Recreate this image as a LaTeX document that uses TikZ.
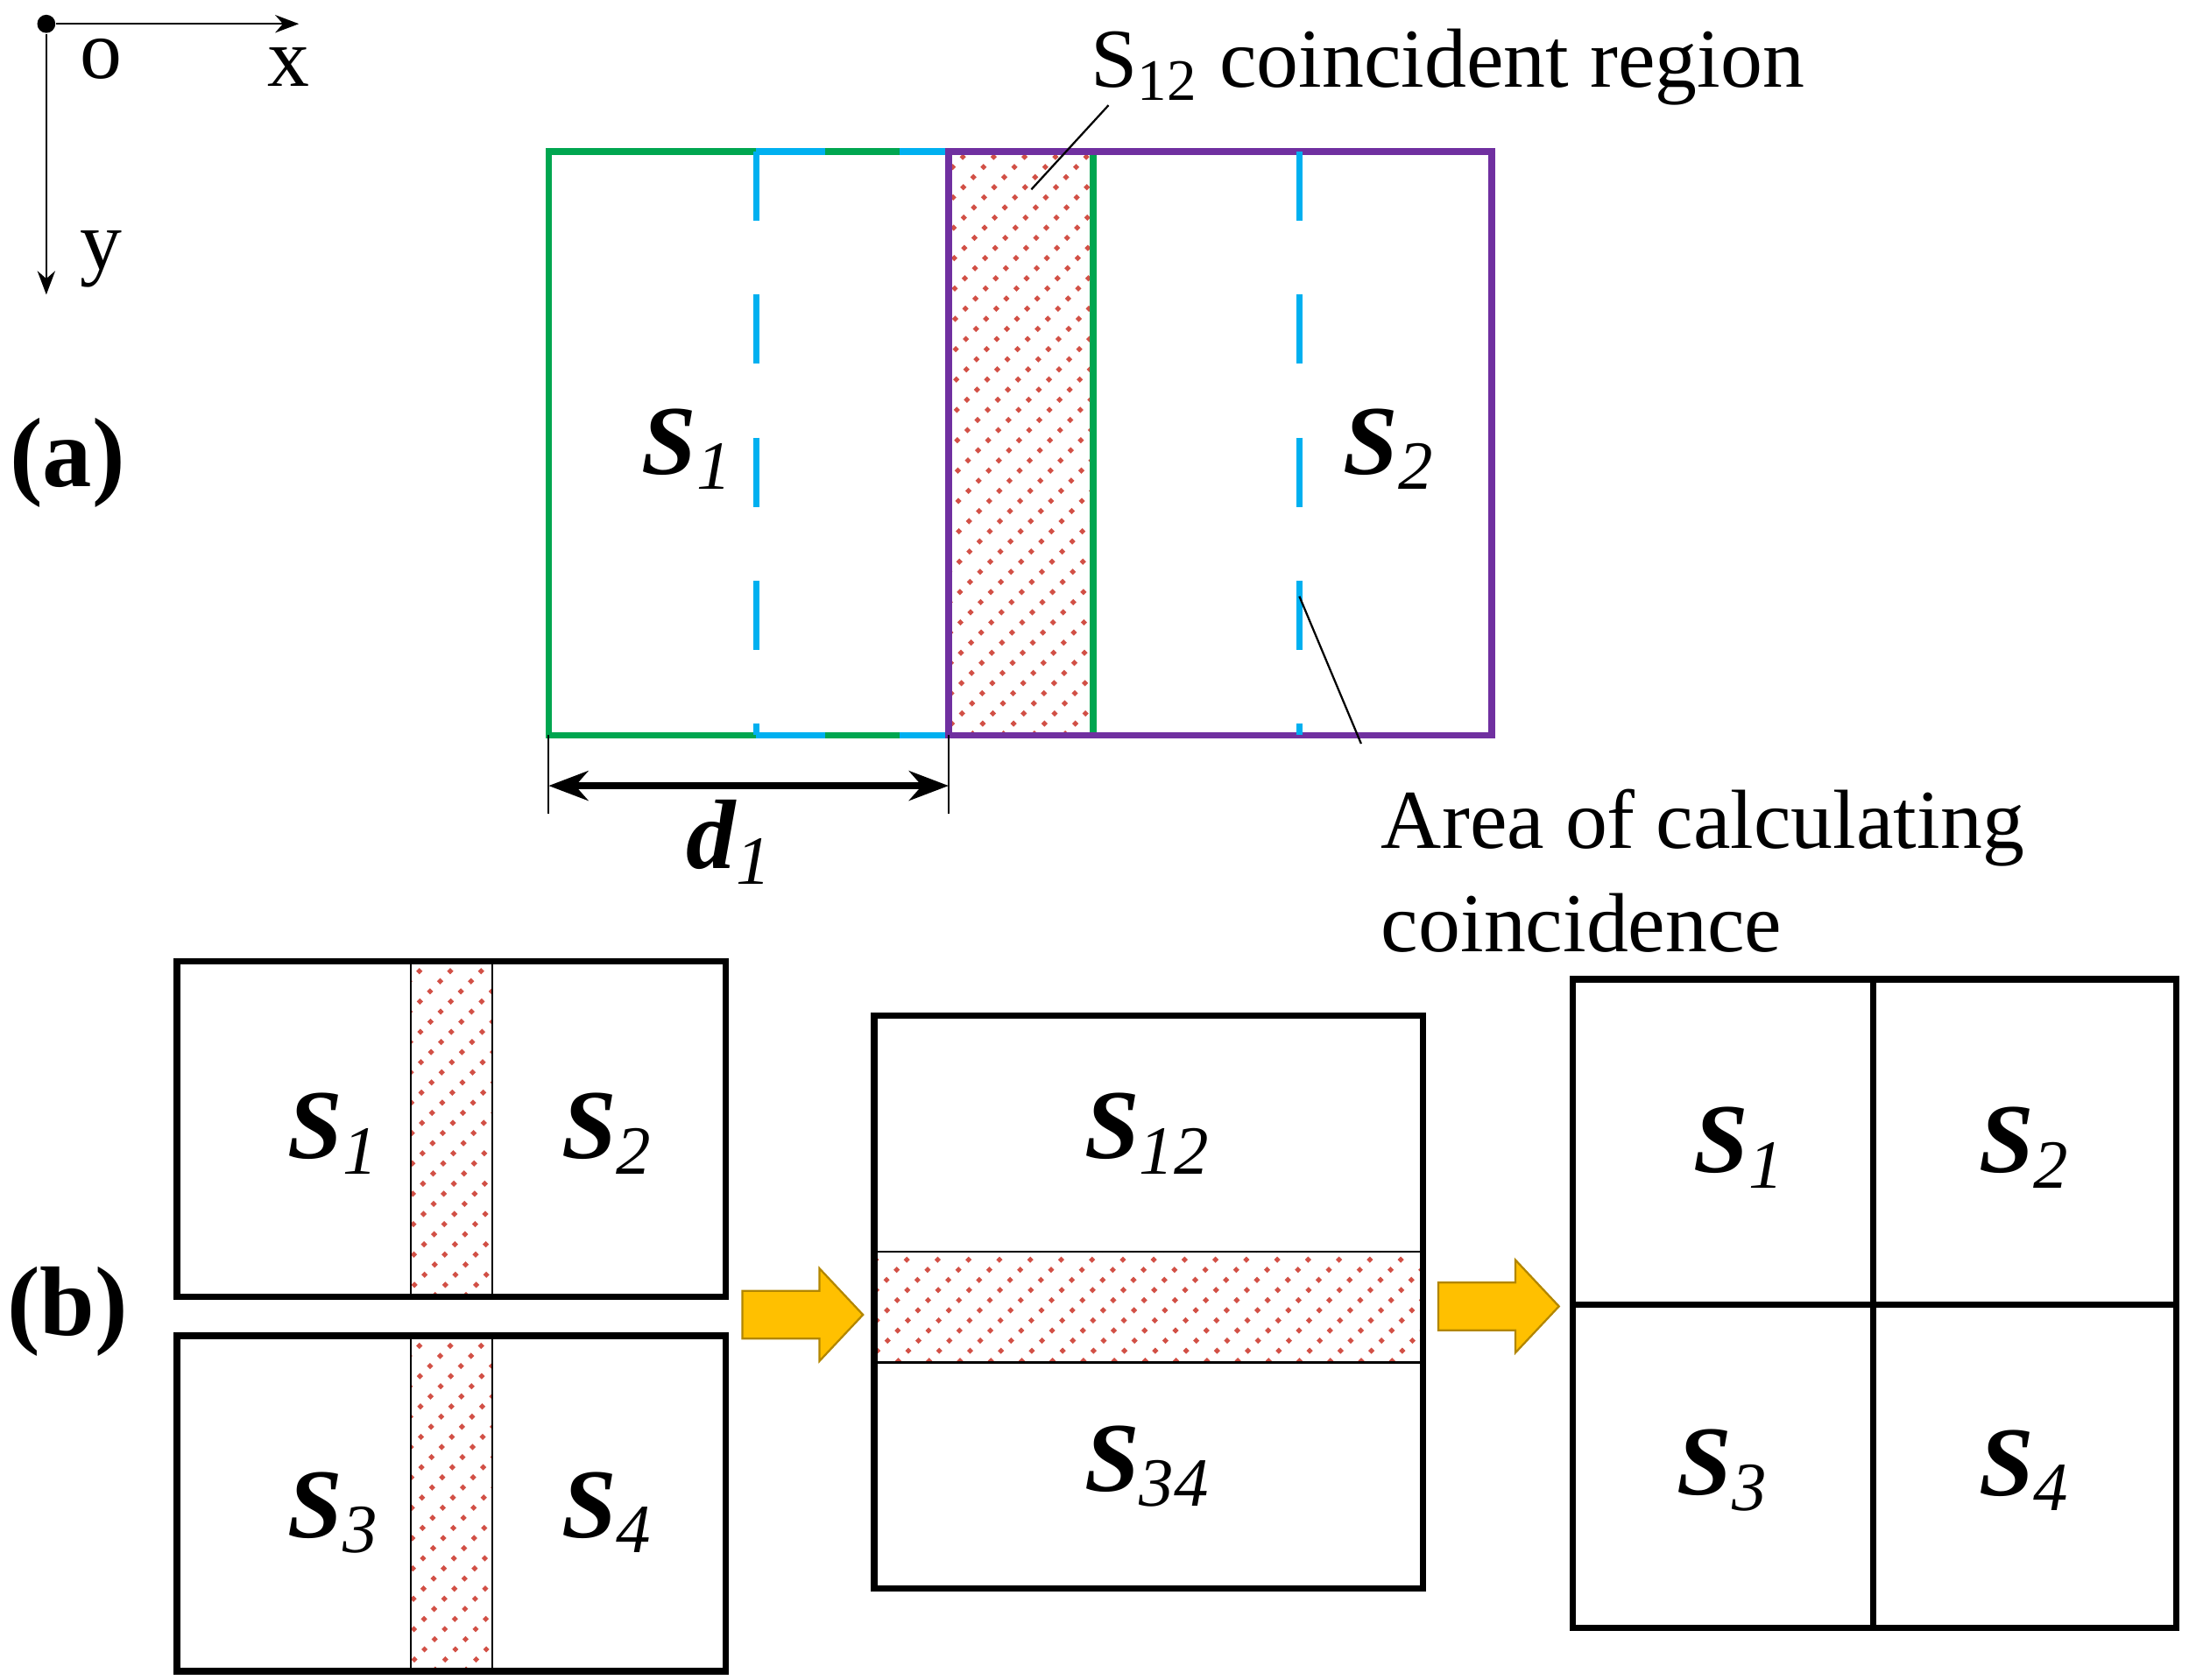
\documentclass[tikz,border=0pt]{standalone}
\usepackage{fontspec}
\setmainfont{Liberation Serif}
\usetikzlibrary{arrows.meta}
\definecolor{sgreen}{RGB}{0,166,80}
\definecolor{sblue}{RGB}{0,176,240}
\definecolor{spurple}{RGB}{112,48,160}
\definecolor{sorange}{RGB}{255,192,0}
\definecolor{shatch}{RGB}{210,80,70}
\newcommand{\hatchbox}[4]{%
  \begin{scope}
    \clip (#1,#2) rectangle (#3,#4);
    \foreach \k in {-600,-578,...,600}
      \draw[shatch,dotted,line width=0.9pt] (#1+\k,#4) -- (#1+\k+600,#4-600);
  \end{scope}}
\newcommand{\fatarrow}[2]{%
  \draw[sorange!70!black,fill=sorange] (#1,#2-17) -- (#1+55,#2-17) -- (#1+55,#2-33)
    -- (#1+86,#2) -- (#1+55,#2+33) -- (#1+55,#2+17) -- (#1,#2+17) -- cycle;}
\begin{document}
\begin{tikzpicture}
        [x=0.01cm,y=-0.01cm,
        box/.style={line width=1.3pt},
        bluedash/.style={line width=1.3pt,sblue,dash pattern=on 14pt off 15pt},
        lab/.style={font=\fontsize{20}{22}\selectfont\bfseries\itshape},
        txt/.style={font=\fontsize{17}{21}\selectfont,anchor=west}]
        \useasboundingbox (0,0) rectangle (1560,1197);
        % axes
        \node[circle,fill,inner sep=1.3pt] (o) at (33,17) {};
        \coordinate (xe) at (213,17);
        \coordinate (ye) at (33,210);
        \draw[-Stealth] (o) -- (xe);
        \draw[-Stealth] (o) -- (ye);
        \node[txt] at (45,42) {o};
        \node[txt] at (178,48) {x};
        \node[txt] at (45,185) {y};
        \node[font=\fontsize{20}{22}\selectfont\bfseries] (pa) at (48,330) {(a)};
        \node[font=\fontsize{20}{22}\selectfont\bfseries] (pb) at (48,935) {(b)};
        % (a)
        \hatchbox{676}{108}{779}{524}
        \draw[box,sgreen] (391,108) rectangle (779,524);
        \draw[bluedash] (539,108) -- (676,108);
        \draw[bluedash] (539,524) -- (676,524);
        \draw[box,spurple] (676,108) rectangle (1063,524);
        \draw[bluedash] (539,108) -- (539,524);
        \draw[bluedash] (926,108) -- (926,524);
        \node[lab] (s1a) at (490,320) {S\textsubscript{\normalfont\itshape 1}};
        \node[lab] (s2a) at (990,320) {S\textsubscript{\normalfont\itshape 2}};
        \draw (391,524) -- (391,580);
        \draw (676,524) -- (676,580);
        \draw[{Stealth[length=8pt]}-{Stealth[length=8pt]},line width=1.3pt] (391,560) -- (676,560);
        \node[lab] (d1) at (520,600) {d\textsubscript{\normalfont\itshape 1}};
        \node[txt] (coin) at (765,48) {S\textsubscript{12} coincident region};
        \coordinate (c1) at (790,75);
        \coordinate (c2) at (735,135);
        \draw (c1) -- (c2);
        \node[txt,align=left,anchor=north west] (area) at (972,550) {Area of calculating\\coincidence};
        \coordinate (a1) at (926,425);
        \coordinate (a2) at (970,530);
        \draw (a1) -- (a2);
        % (b) left
        \hatchbox{293}{685}{351}{924}
        \hatchbox{293}{952}{351}{1191}
        \draw[box] (126,685) rectangle (517,924);
        \draw (293,685) -- (293,924) (351,685) -- (351,924);
        \draw[box] (126,952) rectangle (517,1191);
        \draw (293,952) -- (293,1191) (351,952) -- (351,1191);
        \node[lab] at (238,808) {S\textsubscript{\normalfont\itshape 1}};
        \node[lab] at (433,808) {S\textsubscript{\normalfont\itshape 2}};
        \node[lab] at (238,1078) {S\textsubscript{\normalfont\itshape 3}};
        \node[lab] at (433,1078) {S\textsubscript{\normalfont\itshape 4}};
        \fatarrow{529}{937}
        \fatarrow{1025}{931}
        % (b) middle
        \hatchbox{623}{892}{1014}{971}
        \draw[box] (623,724) rectangle (1014,1132);
        \draw (623,892) -- (1014,892) (623,971) -- (1014,971);
        \node[lab] at (818,808) {S\textsubscript{\normalfont\itshape 12}};
        \node[lab] at (818,1045) {S\textsubscript{\normalfont\itshape 34}};
        % (b) right
        \draw[box] (1121,698) rectangle (1551,1160);
        \draw[box] (1335,698) -- (1335,1160) (1121,930) -- (1551,930);
        \node[lab] at (1240,818) {S\textsubscript{\normalfont\itshape 1}};
        \node[lab] at (1443,818) {S\textsubscript{\normalfont\itshape 2}};
        \node[lab] at (1228,1048) {S\textsubscript{\normalfont\itshape 3}};
        \node[lab] at (1443,1048) {S\textsubscript{\normalfont\itshape 4}};
\end{tikzpicture}
\end{document}
